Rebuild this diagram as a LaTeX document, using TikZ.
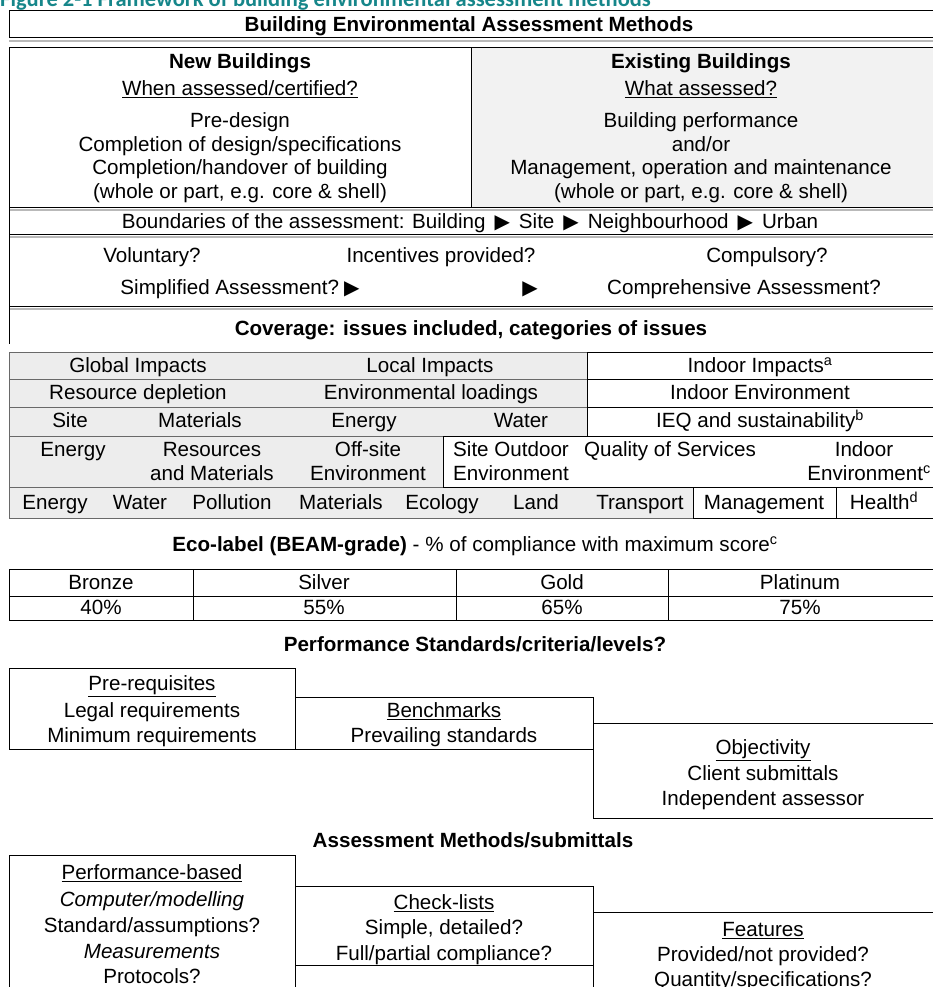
\documentclass[tikz,border=0pt]{standalone}
\usepackage{fontspec}
\setmainfont{Liberation Sans}
\newfontfamily\captionfont{Carlito}
\newfontfamily\trifont{DejaVu Sans}
\usetikzlibrary{positioning}
\definecolor{figteal}{RGB}{22,134,138}
\definecolor{cellgray}{RGB}{237,237,237}
\definecolor{halfgray}{RGB}{242,242,242}
\definecolor{rulegray}{RGB}{105,105,105}
\newcommand{\arrowtri}{{\trifont\fontsize{20}{20}\selectfont ▶}}
\tikzset{%
	frame/.style    = {draw=black, line width=1pt}, % box outline
	shadow/.style   = {draw=gray!55, line width=1.5pt}, % grey line under a box
	grayrule/.style = {draw=rulegray, line width=1pt}, % lines of the grey rows
	txt/.style      = {inner sep=0pt, font=\fontsize{20.6}{24}\selectfont, text height=15.5pt, text depth=2pt}, % plain text
	head/.style     = {txt, font=\fontsize{20.6}{24}\selectfont\bfseries}, % heading
	ital/.style     = {txt, font=\fontsize{20.6}{24}\selectfont\itshape}, % italic text
}

\begin{document}
\begin{tikzpicture}[x=1pt, y=-1pt, node distance = 23.5pt]
	\useasboundingbox (0,0) rectangle (933,987);
	% caption, cut by the page edge
	\node[anchor=base west, inner sep=0pt, text=figteal, font=\captionfont\bfseries\fontsize{22.5}{22.5}\selectfont] (fig) at (0,7) {Figure 2-1 Framework of building environmental assessment methods};
	% title box
	\draw[shadow] (9,41) -- (933,41);
	\draw[frame] (933,11) -- (9,11) -- (9,38) -- (933,38);
	\node[head] (bem) at (469,25) {Building Environmental Assessment Methods};
	% new and existing buildings
	\fill[halfgray] (471,48) rectangle (933,207);
	\draw[shadow] (9,210) -- (933,210);
	\draw[shadow] (9,237) -- (933,237);
	\draw[shadow] (9,309) -- (933,309);
	\draw[frame] (933,48) -- (9,48) -- (9,344);
	\draw[frame] (471,48) -- (471,207);
	\draw[frame] (9,207) -- (933,207);
	\draw[frame] (9,234) -- (933,234);
	\draw[frame] (9,306) -- (933,306);
	\node[head] (newb) at (240,62) {New Buildings};
	\node[txt,below of=newb,node distance = 27pt] (when) {\underline{When assessed/certified?}};
	\node[txt,below of=when,node distance = 32pt] (nb1) {Pre-design};
	\node[txt,below of=nb1] (nb2) {Completion of design/specifications};
	\node[txt,below of=nb2] (nb3) {Completion/handover of building};
	\node[txt,below of=nb3] (nb4) {(whole or part, e.g. core \& shell)};
	\node[head] (exb) at (701,62) {Existing Buildings};
	\node[txt,below of=exb,node distance = 27pt] (what) {\underline{What assessed?}};
	\node[txt,below of=what,node distance = 32pt] (eb1) {Building performance};
	\node[txt,below of=eb1] (eb2) {and/or};
	\node[txt,below of=eb2] (eb3) {Management, operation and maintenance};
	\node[txt,below of=eb3] (eb4) {(whole or part, e.g. core \& shell)};
	\node[txt] (bound) at (470,222) {Boundaries of the assessment: Building\hspace{9pt}\arrowtri\hspace{9pt}Site\hspace{9pt}\arrowtri\hspace{9pt}Neighbourhood\hspace{9pt}\arrowtri\hspace{9pt}Urban};
	% status of the scheme
	\node[txt] (vol) at (152,256) {Voluntary?};
	\node[txt] (inc) at (441,256) {Incentives provided?};
	\node[txt] (comp) at (767,256) {Compulsory?};
	\node[txt] (simp) at (240,288) {Simplified Assessment?\hspace{5pt}\arrowtri};
	\node[txt] (mid) at (530,288) {\arrowtri};
	\node[txt] (full) at (744,288) {Comprehensive Assessment?};
	\node[head] (cov) at (471,329) {Coverage: issues included, categories of issues};
	% coverage table
	\fill[cellgray] (9,352) rectangle (587,436);
	\fill[cellgray] (9,436) rectangle (443,487);
	\fill[cellgray] (9,487) rectangle (693,518);
	\draw[grayrule] (9,352) -- (587,352) (9,379) -- (587,379) (9,407) -- (587,407) (9,436) -- (443,436) (9,487) -- (443,487) (9,518) -- (693,518) (9,352) -- (9,518);
	\draw[frame] (587,352) -- (933,352) (587,379) -- (933,379) (587,407) -- (933,407) (587,352) -- (587,436);
	\draw[frame] (443,436) -- (933,436) (443,436) -- (443,487) (443,487) -- (933,487);
	\draw[frame] (693,487) -- (693,518) (836,487) -- (836,518) (693,518) -- (933,518);
	\node[txt] (glob) at (138,366) {Global Impacts};
	\node[txt] (loc) at (430,366) {Local Impacts};
	\node[txt] (indi) at (760,366) {Indoor Impacts\textsuperscript{a}};
	\node[txt] (res) at (138,393) {Resource depletion};
	\node[txt] (envl) at (431,393) {Environmental loadings};
	\node[txt] (inde) at (760,393) {Indoor Environment};
	\node[txt] (site) at (70,421) {Site};
	\node[txt] (mat) at (200,421) {Materials};
	\node[txt] (ene) at (364,421) {Energy};
	\node[txt] (wat) at (521,421) {Water};
	\node[txt] (ieq) at (760,421) {IEQ and sustainability\textsuperscript{b}};
	\node[txt] (ene2) at (73,450) {Energy};
	\node[txt] (resm) at (212,450) {Resources};
	\node[txt,below of=resm,node distance = 24pt] (resm2) {and Materials};
	\node[txt] (off) at (368,450) {Off-site};
	\node[txt,below of=off,node distance = 24pt] (off2) {Environment};
	\node[txt,anchor=west] (sout) at (453,450) {Site Outdoor};
	\node[txt,anchor=west,below of=sout,node distance = 24pt] (sout2) {Environment};
	\node[txt] (qos) at (670,450) {Quality of Services};
	\node[txt] (indr) at (864,450) {Indoor};
	\node[txt,anchor=east] (indr2) at (931,474) {Environment\textsuperscript{c}};
	\node[txt] (e3) at (55,503) {Energy};
	\node[txt] (w3) at (140,503) {Water};
	\node[txt] (pol) at (232,503) {Pollution};
	\node[txt] (m3) at (341,503) {Materials};
	\node[txt] (eco) at (442,503) {Ecology};
	\node[txt] (land) at (536,503) {Land};
	\node[txt] (tra) at (640,503) {Transport};
	\node[txt] (man) at (764,503) {Management};
	\node[txt] (hea) at (884,503) {Health\textsuperscript{d}};
	% grades
	\node[txt] (label) at (475,545) {\textbf{Eco-label (BEAM-grade)} - \% of compliance with maximum score\textsuperscript{c}};
	\draw[frame] (933,569) -- (9,569) -- (9,620) -- (933,620) (9,596) -- (933,596);
	\draw[frame] (193,569) -- (193,620) (456,569) -- (456,620) (668,569) -- (668,620);
	\node[txt] (bro) at (101,583) {Bronze};
	\node[txt] (sil) at (324,583) {Silver};
	\node[txt] (gol) at (562,583) {Gold};
	\node[txt] (pla) at (800,583) {Platinum};
	\node[txt,below of=bro,node distance = 25pt] (p40) {40\%};
	\node[txt,below of=sil,node distance = 25pt] (p55) {55\%};
	\node[txt,below of=gol,node distance = 25pt] (p65) {65\%};
	\node[txt,below of=pla,node distance = 25pt] (p75) {75\%};
	% performance standards
	\node[head] (perfs) at (475,645) {Performance Standards/criteria/levels?};
	\draw[frame] (9,668) rectangle (295,749);
	\draw[frame] (295,697) -- (593,697) -- (593,818) -- (933,818) (295,749) -- (593,749) (593,723) -- (933,723);
	\node[txt] (prq) at (152,684) {\underline{Pre-requisites}};
	\node[txt,below of=prq,node distance = 27pt] (legal) {Legal requirements};
	\node[txt,below of=legal,node distance = 25pt] (minr) {Minimum requirements};
	\node[txt] (bench) at (444,711) {\underline{Benchmarks}};
	\node[txt,below of=bench,node distance = 25pt] (prev) {Prevailing standards};
	\node[txt] (obj) at (763,748) {\underline{Objectivity}};
	\node[txt,below of=obj,node distance = 26pt] (cli) {Client submittals};
	\node[txt,below of=cli,node distance = 25pt] (ind) {Independent assessor};
	% assessment methods
	\node[head] (amet) at (473,841) {Assessment Methods/submittals};
	\draw[frame] (9,987) -- (9,855) -- (295,855) -- (295,987);
	\draw[frame] (295,886) -- (593,886) -- (593,987) (295,965) -- (593,965) (593,912) -- (933,912);
	\node[txt] (pbas) at (152,873) {\underline{Performance-based}};
	\node[ital,below of=pbas,node distance = 27pt] (cmod) {Computer/modelling};
	\node[txt,below of=cmod,node distance = 26pt] (stda) {Standard/assumptions?};
	\node[ital,below of=stda,node distance = 26pt] (meas) {Measurements};
	\node[txt,below of=meas,node distance = 25pt] (prot) {Protocols?};
	\node[txt] (chk) at (444,903) {\underline{Check-lists}};
	\node[txt,below of=chk,node distance = 25pt] (simd) {Simple, detailed?};
	\node[txt,below of=simd,node distance = 26pt] (fpc) {Full/partial compliance?};
	\node[txt] (feat) at (763,930) {\underline{Features}};
	\node[txt,below of=feat,node distance = 25pt] (prov) {Provided/not provided?};
	\node[txt,below of=prov,node distance = 25pt] (quan) {Quantity/specifications?};
\end{tikzpicture}
\end{document}
